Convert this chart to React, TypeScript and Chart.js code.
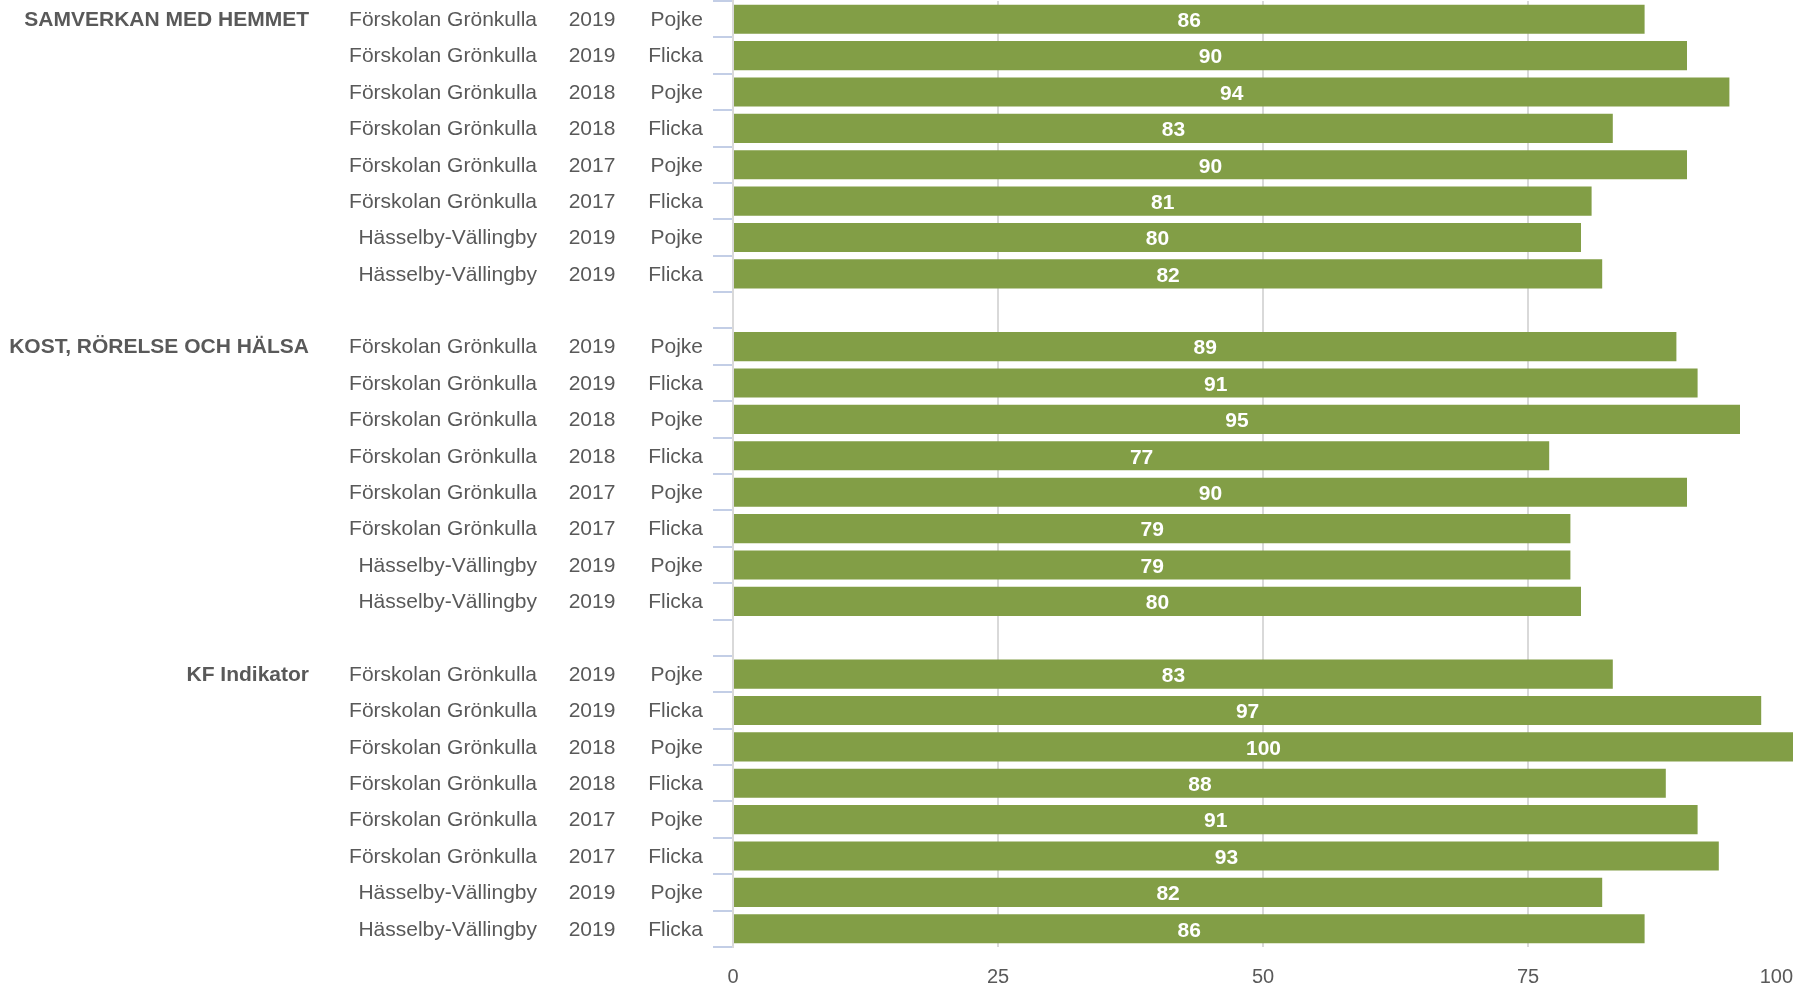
import React, { useEffect, useRef } from "react";
import { Chart, registerables } from "chart.js";

Chart.register(...registerables);

const groups = ["SAMVERKAN MED HEMMET", "KOST, RÖRELSE OCH HÄLSA", "KF Indikator"];
const units = [
  "Förskolan Grönkulla",
  "Förskolan Grönkulla",
  "Förskolan Grönkulla",
  "Förskolan Grönkulla",
  "Förskolan Grönkulla",
  "Förskolan Grönkulla",
  "Hässelby-Vällingby",
  "Hässelby-Vällingby",
];
const years = ["2019", "2019", "2018", "2018", "2017", "2017", "2019", "2019"];
const genders = ["Pojke", "Flicka", "Pojke", "Flicka", "Pojke", "Flicka", "Pojke", "Flicka"];

const samverkanValues = [86, 90, 94, 83, 90, 81, 80, 82];
const kostValues = [89, 91, 95, 77, 90, 79, 79, 80];
const kfValues = [83, 97, 100, 88, 91, 93, 82, 86];

const xTicks = [0, 25, 50, 75, 100];
const X_MAX = 100;

const TEXT = "#595959";
const FONT = "'Liberation Sans', Arial, sans-serif";

type Row = { group: string | null; unit: string; year: string; gender: string; value: number | null };

function buildRows(): Row[] {
  const all = [samverkanValues, kostValues, kfValues];
  const rows: Row[] = [];
  all.forEach((vals, g) => {
    vals.forEach((v, i) => {
      rows.push({ group: i === 0 ? groups[g] : null, unit: units[i], year: years[i], gender: genders[i], value: v });
    });
    if (g < all.length - 1) rows.push({ group: null, unit: "", year: "", gender: "", value: null });
  });
  return rows;
}

export default function App() {
  const ref = useRef<HTMLCanvasElement | null>(null);
  useEffect(() => {
    const rows = buildRows();
    const labels = rows.map((r, i) => `${i}`);
    const data = rows.map((r) => r.value);

    const labelPlugin = {
      id: "leftLabels",
      afterDraw(chart: any) {
        const ctx = chart.ctx;
        const ys = chart.scales.y;
        const xs = chart.scales.x;
        ctx.save();
        ctx.textBaseline = "middle";
        rows.forEach((r, i) => {
          const y = ys.getPixelForValue(i) + 1;
          ctx.fillStyle = TEXT;
          ctx.font = `21px ${FONT}`;
          if (r.gender) {
            ctx.textAlign = "right";
            ctx.fillText(r.gender, 703, y);
          }
          if (r.year) {
            ctx.textAlign = "center";
            ctx.fillText(r.year, 592, y);
          }
          if (r.unit) {
            ctx.textAlign = "right";
            ctx.fillText(r.unit, 537, y);
          }
          if (r.group) {
            ctx.font = `bold 21px ${FONT}`;
            ctx.textAlign = "right";
            ctx.fillText(r.group, 309, y);
          }
        });
        // last x tick label, right-aligned at its tick
        ctx.fillStyle = TEXT;
        ctx.font = `20px ${FONT}`;
        ctx.textAlign = "right";
        ctx.fillText(String(X_MAX), xs.getPixelForValue(X_MAX), xs.top + 18 + 12);
        // value labels
        const meta = chart.getDatasetMeta(0);
        ctx.fillStyle = "#ffffff";
        ctx.font = `bold 21px ${FONT}`;
        ctx.textAlign = "center";
        meta.data.forEach((bar: any, i: number) => {
          const v = data[i];
          if (v === null || v === undefined) return;
          const cx = (bar.x + bar.base) / 2;
          ctx.fillText(String(v), cx, bar.y + 2);
        });
        ctx.restore();
      },
    };

    const chart = new Chart(ref.current as HTMLCanvasElement, {
      type: "bar",
      data: {
        labels,
        datasets: [
          {
            data,
            backgroundColor: "#829e46",
            borderWidth: 0,
            barPercentage: 0.8,
            categoryPercentage: 1,
          },
        ],
      },
      options: {
        indexAxis: "y",
        responsive: false,
        animation: false,
        maintainAspectRatio: false,
        layout: { padding: { top: 1, right: 15, left: 0, bottom: 0 } },
        plugins: { legend: { display: false }, tooltip: { enabled: false }, title: { display: false } },
        scales: {
          x: {
            min: 0,
            max: X_MAX,
            afterBuildTicks: (scale: any) => {
              scale.ticks = xTicks.map((v) => ({ value: v }));
            },
            afterFit: (scale: any) => {
              scale.height = 41;
              scale.paddingLeft = 0;
              scale.paddingRight = 0;
              scale.paddingTop = 0;
              scale.paddingBottom = 0;
            },
            ticks: {
              color: TEXT,
              font: { size: 20, family: FONT },
              padding: 18,
              callback: (v: any) => (Number(v) === X_MAX ? "" : String(v)),
            },
            grid: {
              color: (c: any) => (c.tick && c.tick.value === X_MAX ? "rgba(0,0,0,0)" : "#d9d9d9"),
              lineWidth: 2,
              drawTicks: false,
            },
            border: { display: false },
          },
          y: {
            type: "category",
            offset: true,
            ticks: { display: false },
            afterFit: (scale: any) => {
              scale.width = 733;
              scale.paddingTop = 0;
              scale.paddingBottom = 0;
              scale.paddingLeft = 0;
              scale.paddingRight = 0;
            },
            grid: {
              offset: true,
              drawOnChartArea: false,
              drawTicks: true,
              tickLength: 20,
              color: "#c3cee6",
              lineWidth: 2,
            },
            border: { display: true, color: "#d9d9d9", width: 2 },
          },
        },
      },
      plugins: [labelPlugin],
    });
    return () => chart.destroy();
  }, []);

  return (
    <div style={{ position: "absolute", left: 0, top: 0, width: 1808, height: 988, background: "#fff" }}>
      <canvas ref={ref} width={1808} height={988} style={{ display: "block" }} />
    </div>
  );
}
